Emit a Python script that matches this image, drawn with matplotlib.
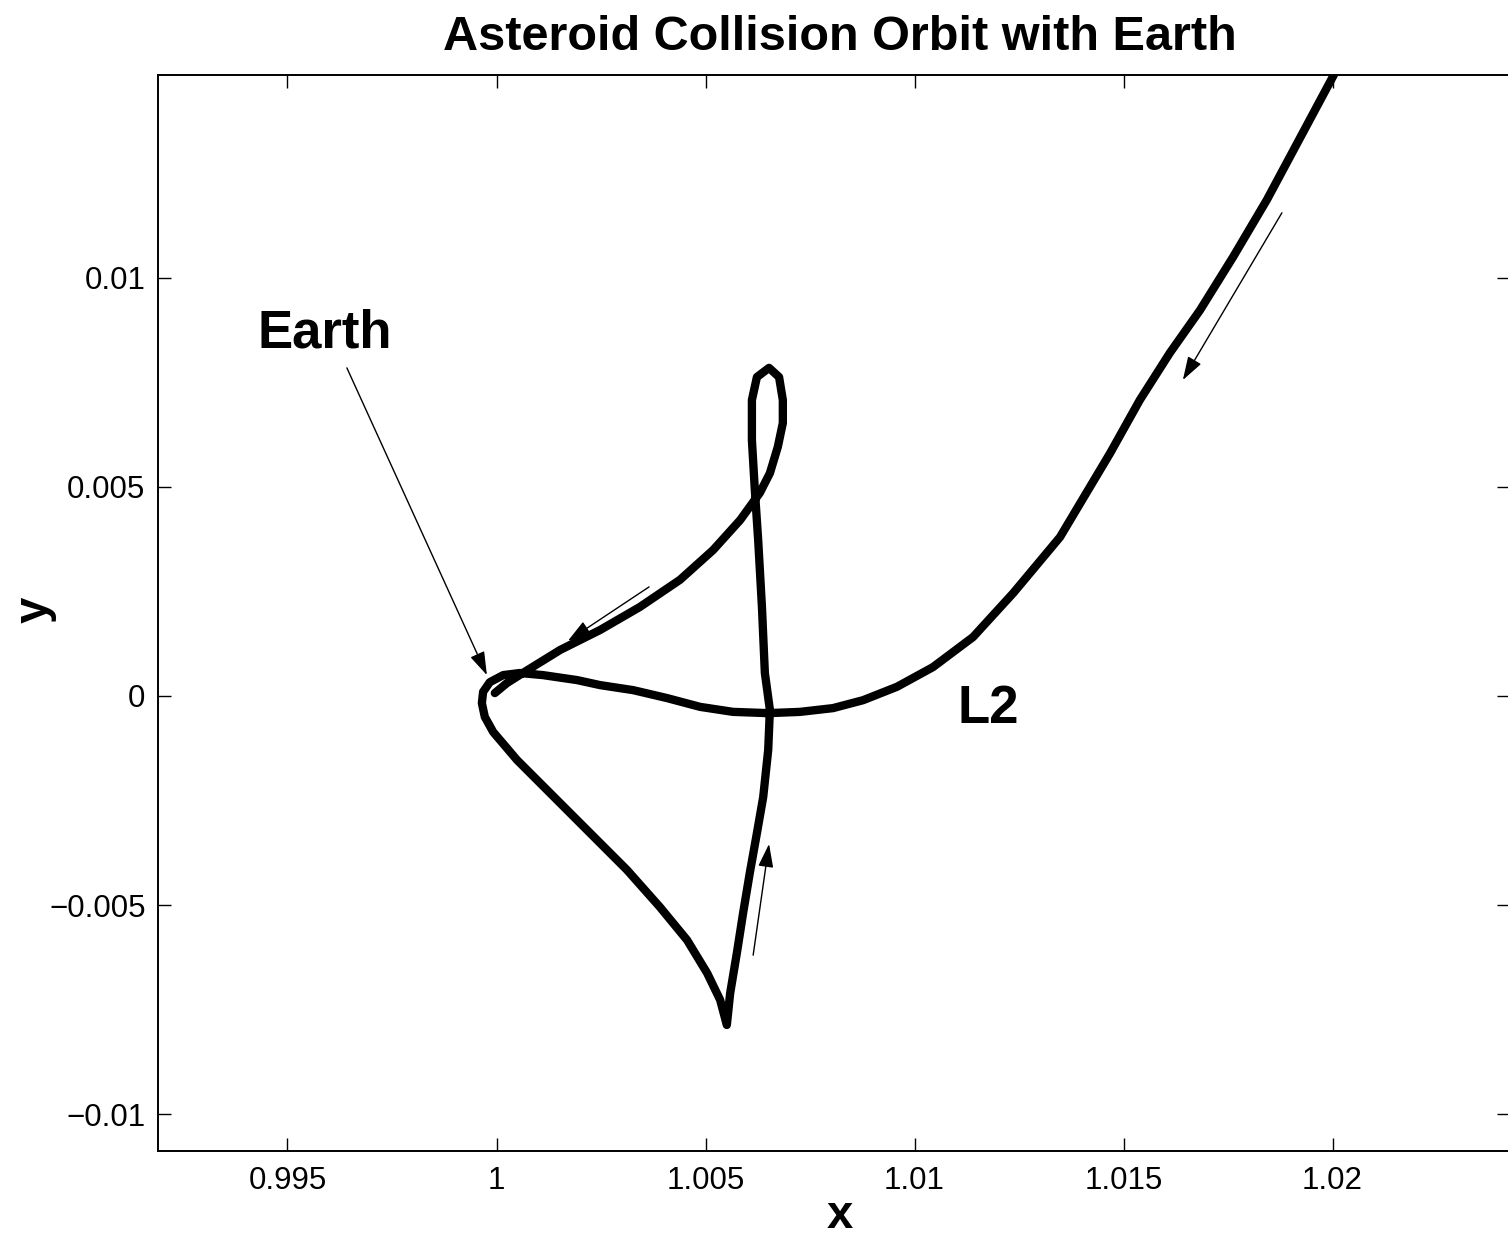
import matplotlib
matplotlib.use("Agg")
import matplotlib.pyplot as plt

plt.rcParams['font.family'] = ['Liberation Sans', 'DejaVu Sans']

# Orbit trajectory (x, y) in rotating frame
orbit_x = [1.02030, 1.01843, 1.01762, 1.01683, 1.01611, 1.01539, 1.01468, 1.01348,
           1.01236, 1.01140, 1.01044, 1.00958, 1.00877, 1.00805, 1.00726, 1.00650,
           1.00566, 1.00487, 1.00408, 1.00327, 1.00248, 1.00193, 1.00111, 1.00056,
           1.00016, 0.99984, 0.99968, 0.99965, 0.99972, 0.99992, 1.00049, 1.00128,
           1.00224, 1.00312, 1.00391, 1.00456, 1.00504, 1.00535, 1.00551, 1.00559,
           1.00575, 1.00590, 1.00606, 1.00623, 1.00638, 1.00650, 1.00654, 1.00642,
           1.00635, 1.00626, 1.00618, 1.00611, 1.00611, 1.00623, 1.00652, 1.00676,
           1.00685, 1.00685, 1.00673, 1.00654, 1.00630, 1.00583, 1.00518, 1.00439,
           1.00343, 1.00248, 1.00152, 1.00063, 1.00025, 0.99996]
orbit_y = [0.01536, 0.01187, 0.01050, 0.00923, 0.00821, 0.00708, 0.00581, 0.00380,
           0.00246, 0.00141, 0.00069, 0.00022, -0.00010, -0.00029, -0.00038, -0.00041,
           -0.00038, -0.00026, -0.00005, 0.00014, 0.00026, 0.00038, 0.00050, 0.00055,
           0.00050, 0.00033, 0.00010, -0.00017, -0.00050, -0.00086, -0.00153, -0.00232,
           -0.00328, -0.00416, -0.00505, -0.00584, -0.00663, -0.00727, -0.00787, -0.00711,
           -0.00615, -0.00519, -0.00423, -0.00328, -0.00242, -0.00129, -0.00033, 0.00055,
           0.00213, 0.00373, 0.00493, 0.00612, 0.00708, 0.00763, 0.00785, 0.00763,
           0.00708, 0.00653, 0.00596, 0.00533, 0.00486, 0.00421, 0.00349, 0.00278,
           0.00213, 0.00158, 0.00110, 0.00055, 0.00031, 0.00007]

# Direction arrows: (tail_x, tail_y, head_x, head_y)
arrow_tail_x = [1.00365, 1.01879, 1.00614]
arrow_tail_y = [0.00261, 0.01156, -0.00620]
arrow_head_x = [1.00171, 1.01642, 1.00652]
arrow_head_y = [0.00132, 0.00756, -0.00354]

# Labels
earth_label = "Earth"
earth_text_xy = (0.99429, 0.00833)
earth_arrow_tail = (0.99642, 0.00785)
earth_arrow_head = (0.99977, 0.00050)
l2_label = "L2"
l2_text_xy = (1.01104, -0.00065)

x_ticks = [0.995, 1.0, 1.005, 1.01, 1.015, 1.02]
x_ticklabels = ['0.995', '1', '1.005', '1.01', '1.015', '1.02']
y_ticks = [-0.01, -0.005, 0.0, 0.005, 0.01]
y_ticklabels = ['\u22120.01', '\u22120.005', '0', '0.005', '0.01']

fig = plt.figure(figsize=(15.08, 12.37), dpi=100)
ax = fig.add_axes([158 / 1508, 1 - 1151 / 1237, 1352 / 1508, 1076 / 1237])

ax.plot(orbit_x, orbit_y, color='black', lw=6,
        solid_joinstyle='round', solid_capstyle='round')

arrow_props = dict(arrowstyle='-|>,head_length=0.8,head_width=0.26',
                   mutation_scale=18, lw=1.0, color='black',
                   shrinkA=0, shrinkB=0)
for tx, ty, hx, hy in zip(arrow_tail_x, arrow_tail_y, arrow_head_x, arrow_head_y):
    ax.annotate('', xy=(hx, hy), xytext=(tx, ty), arrowprops=arrow_props)

ax.annotate('', xy=earth_arrow_head, xytext=earth_arrow_tail, arrowprops=arrow_props)
ax.text(earth_text_xy[0], earth_text_xy[1], earth_label, fontsize=38,
        fontweight='bold', ha='left', va='baseline')
ax.text(l2_text_xy[0], l2_text_xy[1], l2_label, fontsize=38,
        fontweight='bold', ha='left', va='baseline')

ax.set_xlim(0.991902, 1.024246)
ax.set_ylim(-0.010885, 0.014856)
ax.set_xticks(x_ticks)
ax.set_xticklabels(x_ticklabels)
ax.set_yticks(y_ticks)
ax.set_yticklabels(y_ticklabels)
ax.tick_params(direction='in', length=9.5, width=1.0, labelsize=22.5,
               top=True, right=True)
ax.tick_params(axis='x', pad=11)
ax.tick_params(axis='y', pad=9)
for s in ax.spines.values():
    s.set_linewidth(1.4)

ax.set_xlabel('x', fontsize=34, fontweight='bold', va='baseline')
ax.xaxis.set_label_coords((840 - 158) / 1352, (1151 - 1228) / 1076)
ax.set_ylabel('y', fontsize=34, fontweight='bold', va='center')
ax.yaxis.set_label_coords((35 - 158) / 1352, (1151 - 610) / 1076)

fig.text(840 / 1508, 1 - 50 / 1237, 'Asteroid Collision Orbit with Earth',
         fontsize=35, fontweight='bold', ha='center', va='baseline')

fig.savefig('out.png', dpi=100)
